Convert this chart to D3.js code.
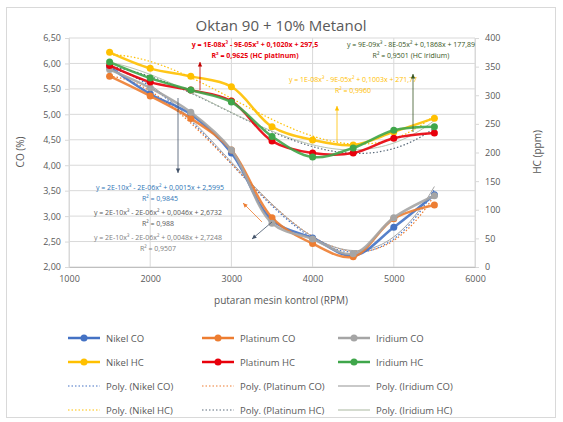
<!DOCTYPE html>
<html><head><meta charset="utf-8">
<script src="https://cdn.jsdelivr.net/npm/d3@7"></script>
<style>body{margin:0;background:#fff}svg{display:block}</style>
</head><body><svg id="c" width="563" height="422"></svg>
<script>
const rpm = [1500,2000,2500,3000,3500,4000,4500,5000,5500];
const nikelCO = [5.93,5.40,5.00,4.24,2.92,2.57,2.22,2.78,3.42];
const platinumCO = [5.75,5.36,4.92,4.30,2.97,2.46,2.20,2.95,3.22];
const iridiumCO = [5.88,5.52,5.04,4.30,2.86,2.55,2.26,2.97,3.40];
const nikelHC = [375,347,333,315,245,222,213,236,260];
const platinumHC = [352,323,309,290,220,199,199,225,234];
const iridiumHC = [358,330,309,288,228,192,208,239,245];
const xTicks = [1000,2000,3000,4000,5000,6000];
const coTicks = [2,2.5,3,3.5,4,4.5,5,5.5,6,6.5];
const hcTicks = [0,50,100,150,200,250,300,350,400];

const svg = d3.select('#c');
const F = 'Open Sans, Liberation Sans, sans-serif';
const L=69,R=475,T=38,B=267;
const x = d3.scaleLinear().domain([1000,6000]).range([L,R]);
const yL = d3.scaleLinear().domain([2,6.5]).range([B,T]);
const yR = d3.scaleLinear().domain([0,400]).range([B,T]);

svg.append('rect').attr('x',6.5).attr('y',7.5).attr('width',549).attr('height',410).attr('fill','#fff').attr('stroke','#d9d9d9');

// grid
svg.append('g').selectAll('line').data(coTicks).join('line')
 .attr('x1',L).attr('x2',R).attr('y1',d=>yL(d)).attr('y2',d=>yL(d)).attr('stroke','#d9d9d9');
svg.append('g').selectAll('line').data(xTicks).join('line')
 .attr('y1',T).attr('y2',B).attr('x1',d=>x(d)).attr('x2',d=>x(d)).attr('stroke','#d9d9d9');

const fmt = d=>d3.format('.2f')(d).replace('.',',');
const gL = svg.append('g').attr('transform',`translate(${L},0)`).call(d3.axisLeft(yL).tickValues(coTicks).tickFormat(fmt).tickSize(4).tickPadding(4));
const gR = svg.append('g').attr('transform',`translate(${R},0)`).call(d3.axisRight(yR).tickValues(hcTicks).tickSize(4).tickPadding(6));
const gX = svg.append('g').attr('transform',`translate(0,${B})`).call(d3.axisBottom(x).tickValues(xTicks).tickFormat(d3.format('d')).tickSize(0).tickPadding(9));
[gL,gR,gX].forEach(g=>{g.selectAll('path').attr('stroke','#d9d9d9');g.selectAll('line').attr('stroke','#d9d9d9');
 g.selectAll('text').attr('fill','#595959').style('font-family',F).style('font-size','9px');});
gX.select('path').attr('stroke','#bfbfbf');

svg.append('text').attr('x',281).attr('y',31).attr('text-anchor','middle').attr('fill','#595959').style('font-family',F).style('font-size','15px').text('Oktan 90 + 10% Metanol');
svg.append('text').attr('x',281).attr('y',304).attr('text-anchor','middle').attr('fill','#595959').style('font-family',F).style('font-size','10px').text('putaran mesin kontrol (RPM)');
svg.append('text').attr('transform','translate(24,152) rotate(-90)').attr('text-anchor','middle').attr('fill','#595959').style('font-family',F).style('font-size','10px').text('CO (%)');
svg.append('text').attr('transform','translate(541,152) rotate(-90)').attr('text-anchor','middle').attr('fill','#595959').style('font-family',F).style('font-size','10px').text('HC (ppm)');

// cubic least squares
function fit(xs,ys){
 const n=4, A=[...Array(n)].map(()=>Array(n+1).fill(0));
 const s=1000;
 xs.forEach((xv,k)=>{const t=xv/s;for(let i=0;i<n;i++){for(let j=0;j<n;j++)A[i][j]+=Math.pow(t,i+j);A[i][n]+=ys[k]*Math.pow(t,i);}});
 for(let i=0;i<n;i++){let p=i;for(let r=i+1;r<n;r++)if(Math.abs(A[r][i])>Math.abs(A[p][i]))p=r;[A[i],A[p]]=[A[p],A[i]];
  for(let r=0;r<n;r++)if(r!==i){const f=A[r][i]/A[i][i];for(let c=i;c<=n;c++)A[r][c]-=f*A[i][c];}}
 const co=A.map((row,i)=>row[n]/row[i]);
 return xv=>{const t=xv/s;return co[0]+co[1]*t+co[2]*t*t+co[3]*t*t*t;};
}
const series=[
 {name:'Nikel CO',v:nikelCO,y:yL,c:'#4472c4',tc:'#4472c4',td:'1.5,2',tw:1.2},
 {name:'Platinum CO',v:platinumCO,y:yL,c:'#ed7d31',tc:'#ed7d31',td:'1.5,2',tw:1.2},
 {name:'Iridium CO',v:iridiumCO,y:yL,c:'#a5a5a5',tc:'#a5a5a5',td:null,tw:1},
 {name:'Nikel HC',v:nikelHC,y:yR,c:'#ffc000',tc:'#ffc000',td:'1.5,2',tw:1.2},
 {name:'Platinum HC',v:platinumHC,y:yR,c:'#e8000b',tc:'#5b6b7b',td:'1.5,2',tw:1.2},
 {name:'Iridium HC',v:iridiumHC,y:yR,c:'#3fa64a',tc:'#b8c4b0',td:null,tw:1},
];
const sx=d3.range(1500,5501,50);
series.forEach(s=>{
 const f=fit(rpm,s.v);
 svg.append('path').datum(sx).attr('fill','none').attr('stroke',s.tc).attr('stroke-width',s.tw).attr('stroke-dasharray',s.td)
  .attr('d',d3.line().x(d=>x(d)).y(d=>s.y(f(d))));
});
series.forEach(s=>{
 const g=svg.append('g');
 g.append('path').datum(rpm).attr('fill','none').attr('stroke',s.c).attr('stroke-width',2.5).attr('stroke-opacity',0.9)
  .attr('d',d3.line().x(d=>x(d)).y((d,i)=>s.y(s.v[i])).curve(d3.curveCatmullRom));
 g.selectAll('circle').data(rpm).join('circle').attr('cx',d=>x(d)).attr('cy',(d,i)=>s.y(s.v[i])).attr('r',3.5).attr('fill',s.c);
});

// annotations
function ann(lines,cx,cy,col){lines.forEach((t,i)=>svg.append('text').attr('x',cx).attr('y',cy+i*11).attr('text-anchor','middle').attr('fill',col).style('font-family',F).style('font-size','7px').style('font-weight',col==='#e8000b'?'bold':'normal').text(t));}
ann(['y = 1E-08x³ - 9E-05x² + 0,1020x + 297,5','R² = 0,9625 (HC platinum)'],255,47,'#e8000b');
ann(['y = 9E-09x³ - 8E-05x² + 0,1868x + 177,89','R² = 0,9501 (HC iridium)'],411,47,'#375623');
ann(['y = 1E-08x³ - 9E-05x² + 0,1003x + 271,77','R² = 0,9960'],353,82,'#ffc000');
ann(['y = 2E-10x³ - 2E-06x² + 0,0015x + 2,5995','R² = 0,9845'],160,190,'#2e75b6');
ann(['y = 2E-10x³ - 2E-06x² + 0,0046x + 2,6732','R² = 0,988'],158,215,'#595959');
ann(['y = 2E-10x³ - 2E-06x² + 0,0048x + 2,7248','R² = 0,9507'],158,240,'#808080');
function arrow(x1,y1,x2,y2,col){
 svg.append('line').attr('x1',x1).attr('y1',y1).attr('x2',x2).attr('y2',y2).attr('stroke',col).attr('stroke-width',0.8);
 const a=Math.atan2(y2-y1,x2-x1),h=5;
 svg.append('path').attr('d',`M${x2},${y2}L${x2-h*Math.cos(a-0.45)},${y2-h*Math.sin(a-0.45)}L${x2-h*Math.cos(a+0.45)},${y2-h*Math.sin(a+0.45)}Z`).attr('fill',col);
}
arrow(200,90,200,62,'#c00000');
arrow(413,132,413,74,'#375623');
arrow(337,142,337,106,'#ffc000');
arrow(178,98,178,173,'#44546a');
arrow(262,222,243,203,'#ed7d31');
arrow(272,222,252,239,'#44546a');

// legend
const rows=[338,362,386,410], cols=[68,202,338];
const leg=[
 {t:'Nikel CO',c:'#4472c4',m:1},{t:'Platinum CO',c:'#ed7d31',m:1},{t:'Iridium CO',c:'#a5a5a5',m:1},
 {t:'Nikel HC',c:'#ffc000',m:1},{t:'Platinum HC',c:'#e8000b',m:1},{t:'Iridium HC',c:'#3fa64a',m:1},
 {t:'Poly. (Nikel CO)',c:'#4472c4',d:'1.5,2'},{t:'Poly. (Platinum CO)',c:'#ed7d31',d:'1.5,2'},{t:'Poly. (Iridium CO)',c:'#a5a5a5'},
 {t:'Poly. (Nikel HC)',c:'#ffc000',d:'1.5,2'},{t:'Poly. (Platinum HC)',c:'#5b6b7b',d:'1.5,2'},{t:'Poly. (Iridium HC)',c:'#b8c4b0'},
];
leg.forEach((e,i)=>{
 const cx=cols[i%3], cy=rows[Math.floor(i/3)];
 svg.append('line').attr('x1',cx).attr('x2',cx+32).attr('y1',cy).attr('y2',cy).attr('stroke',e.c).attr('stroke-width',e.m?2.5:1.2).attr('stroke-dasharray',e.d||null);
 if(e.m) svg.append('circle').attr('cx',cx+16).attr('cy',cy).attr('r',3.5).attr('fill',e.c);
 svg.append('text').attr('x',cx+38).attr('y',cy+3.5).attr('fill','#595959').style('font-family',F).style('font-size','9.5px').text(e.t);
});
</script></body></html>
